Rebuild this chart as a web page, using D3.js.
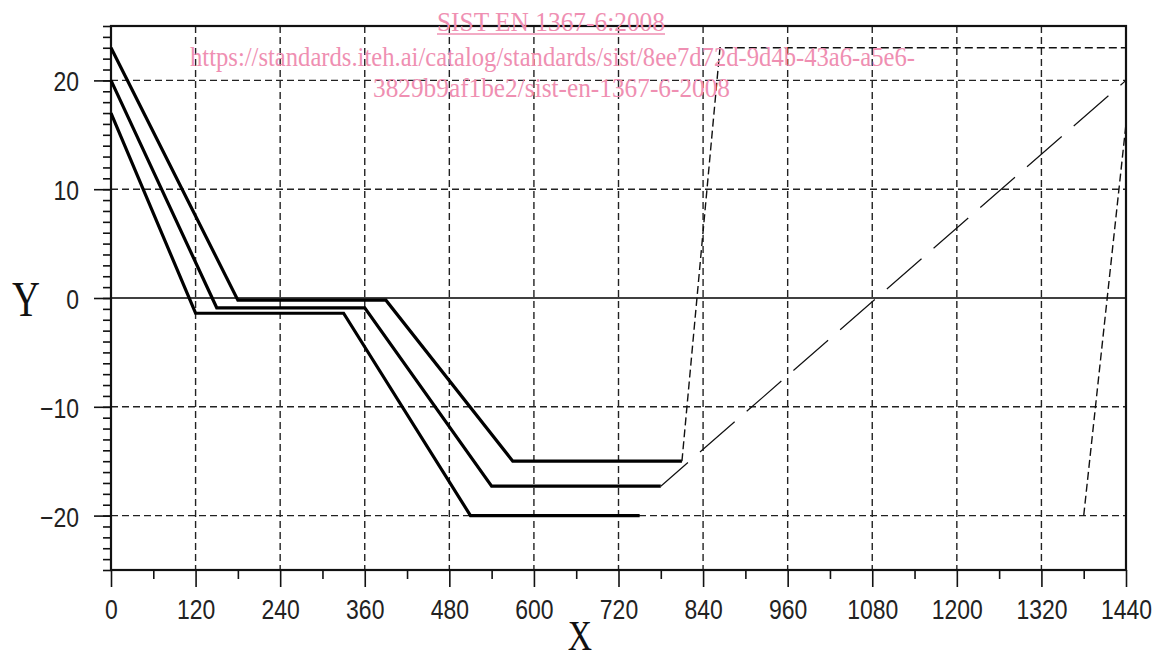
<!DOCTYPE html>
<html>
<head>
<meta charset="utf-8">
<script src="https://cdn.jsdelivr.net/npm/d3@7"></script>
<style>
  html, body { margin: 0; padding: 0; background: #fff; }
  svg { display: block; }
</style>
</head>
<body>
<svg id="chart" width="1159" height="661"></svg>
<script>
// ---- data ----
const line1X = [0, 180, 390, 570, 810];
const line1Y = [23, -0.2, -0.2, -15, -15];
const line2X = [0, 150, 360, 540, 780];
const line2Y = [20, -0.9, -0.9, -17.3, -17.3];
const line3X = [0, 120, 330, 510, 750];
const line3Y = [17, -1.4, -1.4, -20, -20];

const dashA_X = [810, 864, 1440];      // short dashes, steep then flat
const dashA_Y = [-15, 23, 23];
const dashB_X = [780, 1440];           // long dashes
const dashB_Y = [-17.3, 20];
const dashC_X = [1380, 1440];          // short dashes, steep rise at the right
const dashC_Y = [-20, 16];

const xTickLabels = [0, 120, 240, 360, 480, 600, 720, 840, 960, 1080, 1200, 1320, 1440];
const xMinorTicks = [60, 180, 300, 420, 540, 660, 780, 900, 1020, 1140, 1260, 1380];
const yTickLabels = [-20, -10, 0, 10, 20];
const yMinorTicks = d3.range(-25, 26, 1);
const xGridValues = [120, 240, 360, 480, 600, 720, 840, 960, 1080, 1200, 1320];
const yGridValues = [-20, -10, 10, 20];

const xAxisTitle = "X";
const yAxisTitle = "Y";
const watermark = [
  "SIST EN 1367-6:2008",
  "https://standards.iteh.ai/catalog/standards/sist/8ee7d72d-9d4b-43a6-a5e6-",
  "3829b9af1be2/sist-en-1367-6-2008"
];

// ---- layout ----
const L = 111, R = 1126, T = 26, B = 570;
const x = d3.scaleLinear().domain([0, 1440]).range([L, R]);
const y = d3.scaleLinear().domain([-25, 25]).range([B, T]);

const svg = d3.select("#chart");
svg.append("rect").attr("width", 1159).attr("height", 661).attr("fill", "#fff");

const numFont = "'Liberation Sans', Arial, sans-serif";
const serifFont = "'Liberation Serif', 'Times New Roman', serif";

// grid
const grid = svg.append("g").attr("stroke", "#222").attr("stroke-width", 1.4)
  .attr("stroke-dasharray", "7,4").attr("fill", "none");
grid.selectAll("line.v").data(xGridValues).join("line")
  .attr("x1", d => x(d)).attr("x2", d => x(d)).attr("y1", T).attr("y2", B);
grid.selectAll("line.h").data(yGridValues).join("line")
  .attr("x1", L).attr("x2", R).attr("y1", d => y(d)).attr("y2", d => y(d));

// zero line
svg.append("line").attr("x1", L).attr("x2", R).attr("y1", y(0)).attr("y2", y(0))
  .attr("stroke", "#000").attr("stroke-width", 1.5);

// axes (minor ticks)
const xMinor = svg.append("g").attr("transform", `translate(0,${B})`)
  .call(d3.axisBottom(x).tickValues(xMinorTicks).tickSize(9).tickFormat(""));
const yMinor = svg.append("g").attr("transform", `translate(${L},0)`)
  .call(d3.axisLeft(y).tickValues(yMinorTicks).tickSize(8).tickFormat(""));
// major
const xMajor = svg.append("g").attr("transform", `translate(0,${B})`)
  .call(d3.axisBottom(x).tickValues(xTickLabels).tickSize(17).tickFormat(d3.format("d")));
const yMajor = svg.append("g").attr("transform", `translate(${L},0)`)
  .call(d3.axisLeft(y).tickValues(yTickLabels).tickSize(17).tickFormat(d3.format("d")));

[xMinor, yMinor, xMajor, yMajor].forEach(g => {
  g.select(".domain").remove();
  g.selectAll(".tick line").attr("stroke", "#111").attr("stroke-width", 1.6);
});
xMajor.selectAll(".tick text")
  .attr("x", null).attr("y", null).attr("dy", null)
  .attr("transform", "translate(0,49) scale(0.82,1)")
  .attr("font-family", numFont).attr("font-size", 28).attr("fill", "#222")
  .attr("text-anchor", "middle");
yMajor.selectAll(".tick text")
  .attr("x", null).attr("y", null).attr("dy", null)
  .attr("transform", "translate(-32,10.5) scale(0.82,1)")
  .attr("font-family", numFont).attr("font-size", 28).attr("fill", "#222")
  .attr("text-anchor", "end");

// frame
svg.append("rect").attr("x", L).attr("y", T).attr("width", R - L).attr("height", B - T)
  .attr("fill", "none").attr("stroke", "#111").attr("stroke-width", 2.2);

// data lines
const lineGen = d3.line().x(d => x(d[0])).y(d => y(d[1]));
const zipXY = (xs, ys) => xs.map((v, i) => [v, ys[i]]);

[[line1X, line1Y], [line2X, line2Y], [line3X, line3Y]].forEach(([xs, ys]) => {
  svg.append("path").datum(zipXY(xs, ys)).attr("d", lineGen)
    .attr("fill", "none").attr("stroke", "#000").attr("stroke-width", 3.2)
    .attr("stroke-linejoin", "miter");
});
svg.append("path").datum(zipXY(dashA_X, dashA_Y)).attr("d", lineGen)
  .attr("fill", "none").attr("stroke", "#111").attr("stroke-width", 1.4)
  .attr("stroke-dasharray", "8,4");
svg.append("path").datum(zipXY(dashB_X, dashB_Y)).attr("d", lineGen)
  .attr("fill", "none").attr("stroke", "#111").attr("stroke-width", 1.2)
  .attr("stroke-dasharray", "46,16").attr("stroke-dashoffset", 10);
svg.append("path").datum(zipXY(dashC_X, dashC_Y)).attr("d", lineGen)
  .attr("fill", "none").attr("stroke", "#111").attr("stroke-width", 1.4)
  .attr("stroke-dasharray", "8,4");

// axis titles
svg.append("text").text(xAxisTitle)
  .attr("transform", "translate(580,650) scale(0.8,1)")
  .attr("text-anchor", "middle").attr("font-family", serifFont)
  .attr("font-size", 42).attr("fill", "#111");
svg.append("text").text(yAxisTitle)
  .attr("transform", "translate(26,316) scale(0.76,1)")
  .attr("text-anchor", "middle").attr("font-family", serifFont)
  .attr("font-size", 51).attr("fill", "#111");

// watermark
const wmColor = "#ef8fb2";
const wm = svg.append("g").attr("fill", wmColor).attr("font-family", serifFont).attr("font-size", 27);
const wmPos = [[437, 31, 228], [190, 66, 725], [373, 97, 357]];
watermark.forEach((s, i) => {
  wm.append("text").text(s)
    .attr("x", wmPos[i][0]).attr("y", wmPos[i][1])
    .attr("textLength", wmPos[i][2]).attr("lengthAdjust", "spacingAndGlyphs");
});
wm.append("line").attr("x1", 437).attr("x2", 665).attr("y1", 34).attr("y2", 34)
  .attr("stroke", wmColor).attr("stroke-width", 1.5);
</script>
</body>
</html>
